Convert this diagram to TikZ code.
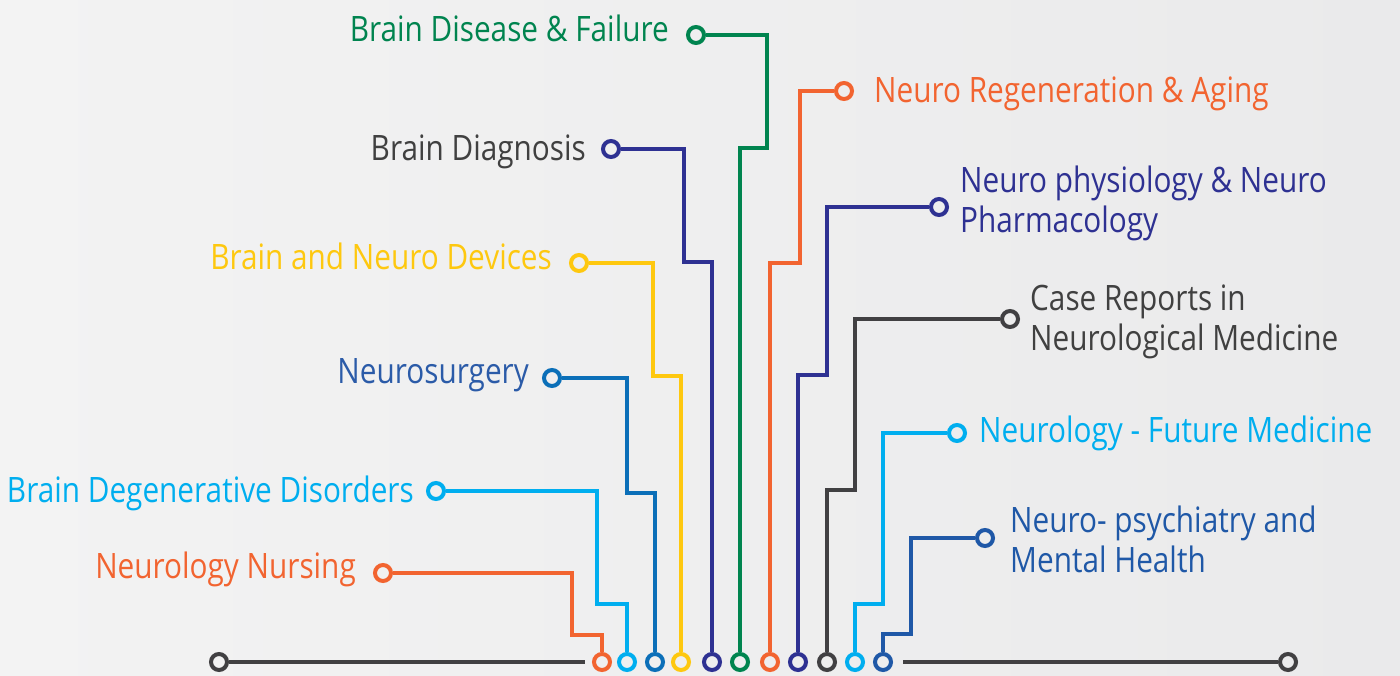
\documentclass[tikz,border=0pt]{standalone}
\usepackage{fontspec}
\setmainfont{Open Sans}[FakeStretch=0.85]
\definecolor{cOr}{HTML}{F26430}
\definecolor{cLb}{HTML}{00AEEF}
\definecolor{cBl}{HTML}{0B6FB8}
\definecolor{cBlT}{HTML}{2B5BA8}
\definecolor{cYe}{HTML}{FEC80F}
\definecolor{cIn}{HTML}{2E3192}
\definecolor{cGr}{HTML}{00844F}
\definecolor{cGy}{HTML}{414042}
\definecolor{cGyT}{HTML}{404040}
\definecolor{cDb}{HTML}{1F58A7}
\definecolor{bgL}{HTML}{F3F3F3}
\definecolor{bgR}{HTML}{EAEAEB}
\begin{document}
\begin{tikzpicture}[x=1pt,y=-1pt,
  dot/.style={circle,draw=#1,line width=4pt,inner sep=0pt,minimum size=16pt},
  wire/.style={draw=#1,line width=4pt},
  lab/.style={text=#1,inner sep=0pt,font=\fontsize{35}{40}\selectfont,align=left}]
\useasboundingbox (0,0) rectangle (1400,675);
\shade[left color=bgL,right color=bgR] (0,0) rectangle (1400,675);
% bottom row
\node[dot=cGy] (L) at (219,662) {};
\node[dot=cGy] (R) at (1288,662) {};
\coordinate (Le) at (585,662);
\coordinate (Rs) at (903,662);
\draw[wire=cGy] (L) -- (Le);
\draw[wire=cGy] (Rs) -- (R);
\node[dot=cOr] (b1) at (602,662) {};
\node[dot=cLb] (b2) at (627,662) {};
\node[dot=cBl] (b3) at (655,662) {};
\node[dot=cYe] (b4) at (681,662) {};
\node[dot=cIn] (b5) at (712,662) {};
\node[dot=cGr] (b6) at (740,662) {};
\node[dot=cOr] (b7) at (770,662) {};
\node[dot=cIn] (b8) at (798,662) {};
\node[dot=cGy] (b9) at (827,662) {};
\node[dot=cLb] (b10) at (855,662) {};
\node[dot=cDb] (b11) at (883,662) {};
% top circles
\node[dot=cOr] (t1) at (383,573) {};
\node[dot=cLb] (t2) at (436,491) {};
\node[dot=cBl] (t3) at (552,378) {};
\node[dot=cYe] (t4) at (579,263) {};
\node[dot=cIn] (t5) at (611,149) {};
\node[dot=cGr] (t6) at (696,35) {};
\node[dot=cOr] (t7) at (844,91) {};
\node[dot=cIn] (t8) at (939,207) {};
\node[dot=cGy] (t9) at (1010,319) {};
\node[dot=cLb] (t10) at (957,433) {};
\node[dot=cDb] (t11) at (985,538) {};
% wires
\draw[wire=cOr] (t1) -| (572,635) -| (b1);
\draw[wire=cLb] (t2) -| (597,604) -| (b2);
\draw[wire=cBl] (t3) -| (627,493) -| (b3);
\draw[wire=cYe] (t4) -| (653,376) -| (b4);
\draw[wire=cIn] (t5) -| (684,262) -| (b5);
\draw[wire=cGr] (t6) -| (767,148) -| (b6);
\draw[wire=cOr] (t7) -| (800,263) -| (b7);
\draw[wire=cIn] (t8) -| (827,375) -| (b8);
\draw[wire=cGy] (t9) -| (855,490) -| (b9);
\draw[wire=cLb] (t10) -| (883,604) -| (b10);
\draw[wire=cDb] (t11) -| (911,634) -| (b11);
% labels
\node[lab=cOr,anchor=base east] (l1) at (356,578) {Neurology Nursing};
\node[lab=cLb,anchor=base east] (l2) at (414,502) {Brain Degenerative Disorders};
\node[lab=cBlT,anchor=base east] (l3) at (529,383) {Neurosurgery};
\node[lab=cYe,anchor=base east] (l4) at (552,269) {Brain and Neuro Devices};
\node[lab=cGyT,anchor=base east] (l5) at (586,160) {Brain Diagnosis};
\node[lab=cGr,anchor=base east] (l6) at (669,41) {Brain Disease \& Failure};
\node[lab=cOr,anchor=base west] (l7) at (874,102) {Neuro Regeneration \& Aging};
\node[lab=cIn,anchor=base west] (l8) at (960,232) {Neuro physiology \& Neuro\\Pharmacology};
\node[lab=cGyT,anchor=base west] (l9) at (1030,350) {Case Reports in\\Neurological Medicine};
\node[lab=cLb,anchor=base west] (l10) at (979,442) {Neurology - Future Medicine};
\node[lab=cDb,anchor=base west] (l11) at (1010,572) {Neuro- psychiatry and\\Mental Health};
\end{tikzpicture}
\end{document}
